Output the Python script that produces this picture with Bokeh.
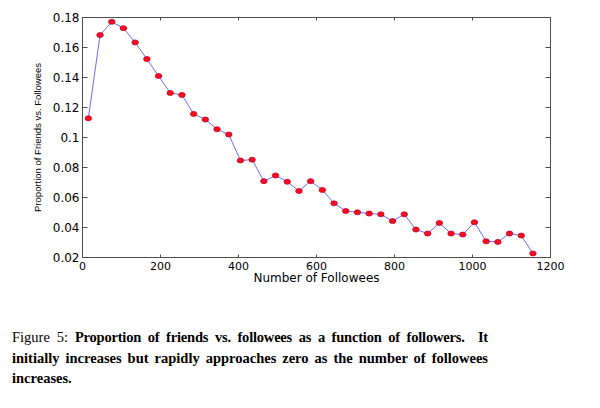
from bokeh.plotting import figure
from bokeh.models import (Range1d, FixedTicker, CustomJSTickFormatter, LinearAxis, Div)
from bokeh.layouts import column
from bokeh.embed import file_html
from bokeh.resources import INLINE

# Number of followees (bin centres) and proportion of friends among followees
followees = [15, 45, 75, 105, 135, 165, 195, 225, 255, 285, 315, 345, 375,
             405, 435, 465, 495, 525, 555, 585, 615, 645, 675, 705, 735, 765,
             795, 825, 855, 885, 915, 945, 975, 1005, 1035, 1065, 1095, 1125, 1155]
proportion = [0.1128, 0.1683, 0.1771, 0.1729, 0.1634, 0.1523, 0.1410, 0.1297,
              0.1284, 0.1157, 0.1120, 0.1055, 0.1020, 0.0847, 0.0852, 0.0709,
              0.0747, 0.0705, 0.0643, 0.0709, 0.0650, 0.0561, 0.0510, 0.0501,
              0.0493, 0.0488, 0.0443, 0.0488, 0.0386, 0.0360, 0.0430, 0.0360,
              0.0353, 0.0435, 0.0308, 0.0304, 0.0360, 0.0346, 0.0227]

x_ticks = [0, 200, 400, 600, 800, 1000, 1200]
y_ticks = [0.02, 0.04, 0.06, 0.08, 0.10, 0.12, 0.14, 0.16, 0.18]

caption_head = "Figure 5:"
caption_lines = [
    "Proportion of friends vs. followees as a function of followers.&nbsp; It",
    "initially increases but rapidly approaches zero as the number of followees",
    "increases.",
]

AXIS_FONT = "DejaVu Sans"
AXIS_COLOR = "#4d4d4d"

p = figure(width=600, height=300, output_backend="svg", toolbar_location=None,
           x_range=Range1d(0, 1200), y_range=Range1d(0.02, 0.18),
           min_border_left=82, min_border_right=50, min_border_top=17,
           min_border_bottom=43, x_axis_label="Number of Followees",
           y_axis_label="Proportion of Friends vs. Followees")
p.grid.visible = False
p.outline_line_color = AXIS_COLOR
p.outline_line_width = 1
p.background_fill_color = "white"
p.border_fill_color = "white"

fmt = CustomJSTickFormatter(code="return parseFloat(tick.toFixed(2)).toString();")
blank = CustomJSTickFormatter(code="return '';")

for ax in p.xaxis:
    ax.ticker = FixedTicker(ticks=x_ticks)
    ax.major_tick_in = 3
    ax.major_tick_out = 0
    ax.minor_tick_line_color = None
    ax.major_label_standoff = 4
    ax.axis_label_standoff = -2
    ax.major_label_text_font_size = "11px"
for ax in p.yaxis:
    ax.ticker = FixedTicker(ticks=y_ticks)
    ax.formatter = fmt
    ax.major_tick_in = 5
    ax.major_tick_out = 0
    ax.minor_tick_line_color = None
    ax.major_label_standoff = 3
    ax.axis_label_standoff = 7
    ax.major_label_text_font_size = "12px"
for ax in list(p.xaxis) + list(p.yaxis):
    ax.axis_line_color = AXIS_COLOR
    ax.major_tick_line_color = AXIS_COLOR
    ax.major_label_text_font = AXIS_FONT
    ax.major_label_text_color = "black"
    ax.axis_label_text_font = "Liberation Sans"
    ax.axis_label_text_font_style = "normal"
    ax.axis_label_text_color = "black"
p.xaxis.axis_label_text_font = AXIS_FONT
p.xaxis.axis_label_text_font_size = "12px"
p.yaxis.axis_label_text_font_size = "9.5px"

# mirrored tick marks on the top and right edges of the box
top = LinearAxis(ticker=FixedTicker(ticks=x_ticks), formatter=blank,
                 major_label_standoff=0,
                 major_tick_in=3, major_tick_out=0, minor_tick_line_color=None,
                 axis_line_color=AXIS_COLOR, major_tick_line_color=AXIS_COLOR)
right = LinearAxis(ticker=FixedTicker(ticks=y_ticks), formatter=blank,
                   major_label_standoff=0,
                   major_tick_in=5, major_tick_out=0, minor_tick_line_color=None,
                   axis_line_color=AXIS_COLOR, major_tick_line_color=AXIS_COLOR)
p.add_layout(top, "above")
p.add_layout(right, "right")

p.line(followees, proportion, line_color="#6b6bff", line_width=1)
p.ellipse(x=followees, y=proportion, width=6.5, height=5,
          width_units="screen", height_units="screen",
          fill_color="#ff0a1e", line_color="#c0002a", line_width=0.8)

# justified figure caption (first two lines stretched to the full text width)
justify = "white-space:nowrap;text-align:justify;text-align-last:justify;"
caption_html = (
    '<div style="font-family:\'Liberation Serif\',serif;font-size:14.5px;'
    'line-height:20.5px;color:black;padding:27px 0 0 12px;width:488px;">'
    f'<div style="{justify}">{caption_head} '
    f'<b style="letter-spacing:-0.2px">{caption_lines[0]}</b></div>'
    f'<div style="{justify}"><b>{caption_lines[1]}</b></div>'
    f'<div style="white-space:nowrap"><b>{caption_lines[2]}</b></div>'
    '</div>'
)
caption = Div(text=caption_html, width=600, height=108, margin=0)

layout = column(p, caption, spacing=0)
open("out.html", "w").write(file_html(layout, INLINE))
